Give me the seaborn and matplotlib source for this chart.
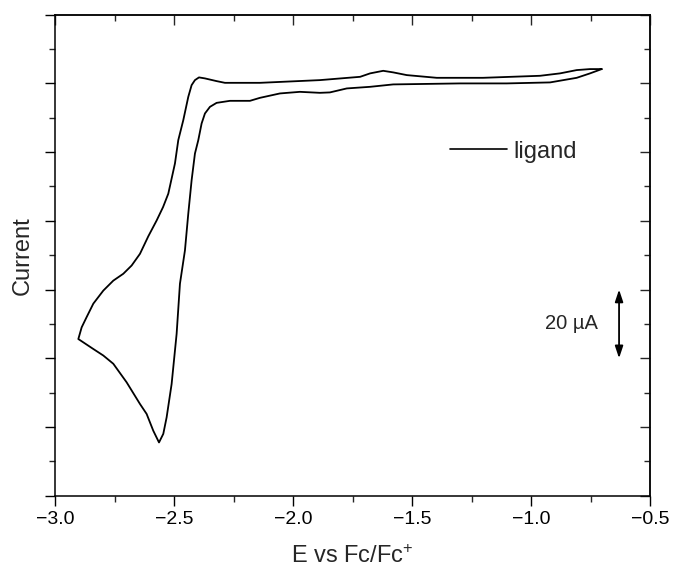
import numpy as np
import pandas as pd
import matplotlib
matplotlib.use("Agg")
import matplotlib.pyplot as plt
from matplotlib.ticker import MultipleLocator
import seaborn as sns

# Cyclic voltammogram (potential in V vs Fc/Fc+, current in µA, arbitrary zero)
# forward (cathodic) scan from -0.70 V to -2.90 V
E_forward = [-0.703, -0.752, -0.808, -0.920, -1.102, -1.298, -1.579, -1.676, -1.774,
             -1.845, -1.887, -1.971, -2.055, -2.139, -2.181, -2.265, -2.321, -2.349,
             -2.370, -2.384, -2.398, -2.412, -2.426, -2.440, -2.454, -2.475, -2.489,
             -2.510, -2.531, -2.545, -2.563, -2.587, -2.615, -2.643, -2.699, -2.755,
             -2.797, -2.839, -2.902]
I_forward = [4.17, 2.92, 1.63, 0.29, 0.0, 0.0, -0.29, -0.99, -1.46,
             -2.62, -2.74, -2.45, -2.92, -4.20, -5.07, -5.07, -5.66, -6.82,
             -8.75, -11.66, -16.53, -20.41, -28.19, -37.9, -48.6, -58.3, -72.9,
             -87.5, -97.2, -102.0, -104.5, -101.1, -96.2, -93.3, -87.0, -81.6,
             -79.2, -77.3, -74.4]
# reverse (anodic) scan from -2.90 V back to -0.70 V
E_reverse = [-2.888, -2.867, -2.839, -2.797, -2.755, -2.713, -2.678, -2.643, -2.608,
             -2.573, -2.546, -2.524, -2.496, -2.482, -2.461, -2.440, -2.426, -2.412,
             -2.395, -2.370, -2.321, -2.286, -2.139, -1.887, -1.718, -1.676, -1.621,
             -1.579, -1.522, -1.396, -1.202, -0.962, -0.878, -0.808, -0.752, -0.703]
I_reverse = [-71.0, -68.0, -64.1, -60.3, -57.4, -55.4, -53.0, -49.6, -44.5,
             -39.9, -36.0, -32.1, -23.3, -16.5, -10.7, -3.91, -0.50, 0.96,
             1.75, 1.46, 0.67, 0.17, 0.17, 0.96, 1.92, 2.92, 3.67,
             3.21, 2.42, 1.63, 1.63, 2.22, 2.92, 3.88, 4.17, 4.17]

series_label = "ligand"
x_ticks = [-3.0, -2.5, -2.0, -1.5, -1.0, -0.5]
scale_bar_uA = 20

df = pd.DataFrame({
    "E": E_forward + E_reverse,
    "I": I_forward + I_reverse,
    "order": np.arange(len(E_forward) + len(E_reverse)),
})

sns.set_theme(style="ticks")
plt.rcParams["font.family"] = ["Liberation Sans", "DejaVu Sans"]
plt.rcParams["axes.linewidth"] = 1.1
plt.rcParams["mathtext.fontset"] = "custom"
plt.rcParams["mathtext.rm"] = "Liberation Sans"
plt.rcParams["mathtext.it"] = "Liberation Sans:italic"
plt.rcParams["mathtext.default"] = "rm"

fig = plt.figure(figsize=(6.73, 5.72), dpi=100)
ax = fig.add_axes([55 / 673, 1 - 495.7 / 572, 595 / 673, 481 / 572])

sns.lineplot(data=df, x="E", y="I", sort=False, estimator=None, color="black",
             linewidth=1.3, label=series_label, ax=ax)
for ln in ax.get_lines():
    ln.set_solid_joinstyle("round")

ax.set_xlim(-3.0, -0.5)
ax.set_ylim(-120, 20)
ax.set_xticks(x_ticks)
ax.set_xticklabels([f"{v:.1f}".replace("-", "\u2212") for v in x_ticks])
ax.xaxis.set_minor_locator(MultipleLocator(0.25))
ax.yaxis.set_major_locator(MultipleLocator(20))
ax.yaxis.set_minor_locator(MultipleLocator(10))
ax.tick_params(axis="both", which="major", direction="out", length=7, width=1.0,
               labelsize=14, colors="black")
ax.tick_params(axis="both", which="minor", direction="out", length=4, width=1.0)
ax.tick_params(axis="y", labelleft=False)
ax.tick_params(axis="x", pad=4)

# mirrored inward ticks on top and right
sec_top = ax.secondary_xaxis("top")
sec_top.set_xticks(x_ticks)
sec_top.xaxis.set_minor_locator(MultipleLocator(0.25))
sec_top.tick_params(axis="x", which="both", labeltop=False)
sec_top.tick_params(axis="x", which="major", direction="in", length=7, width=1.0)
sec_top.tick_params(axis="x", which="minor", direction="in", length=4, width=1.0)

sec_right = ax.secondary_yaxis("right")
sec_right.yaxis.set_major_locator(MultipleLocator(20))
sec_right.yaxis.set_minor_locator(MultipleLocator(10))
sec_right.tick_params(axis="y", which="both", labelright=False)
sec_right.tick_params(axis="y", which="major", direction="in", length=7, width=1.0)
sec_right.tick_params(axis="y", which="minor", direction="in", length=4, width=1.0)

for sec in (sec_top, sec_right):
    for sp in sec.spines.values():
        sp.set_linewidth(1.1)

for sp in ax.spines.values():
    sp.set_visible(True)
    sp.set_linewidth(1.1)
    sp.set_color("black")

ax.set_xlabel("E vs Fc/Fc$^{+}$", fontsize=17, labelpad=12)
ax.set_ylabel("Current", fontsize=17, labelpad=8)

leg = ax.legend(loc="center left", bbox_to_anchor=((450 - 55) / 595, (495.7 - 151.7) / 481),
                frameon=False, fontsize=17, handlelength=2.4, handletextpad=0.3,
                borderpad=0, borderaxespad=0)
for line in leg.get_lines():
    line.set_linewidth(1.2)

# 20 µA scale bar
ax.annotate("", xy=(-0.630, -60), xytext=(-0.630, -60 - scale_bar_uA),
            arrowprops=dict(arrowstyle="<|-|>,head_length=0.6,head_width=0.2",
                            color="black", lw=1.3, shrinkA=0, shrinkB=0))
ax.text(-0.718, -60 - scale_bar_uA / 2, f"{scale_bar_uA} \u00b5A", ha="right",
        va="center", fontsize=14.5)

fig.savefig("out.png", dpi=100, facecolor="white")
